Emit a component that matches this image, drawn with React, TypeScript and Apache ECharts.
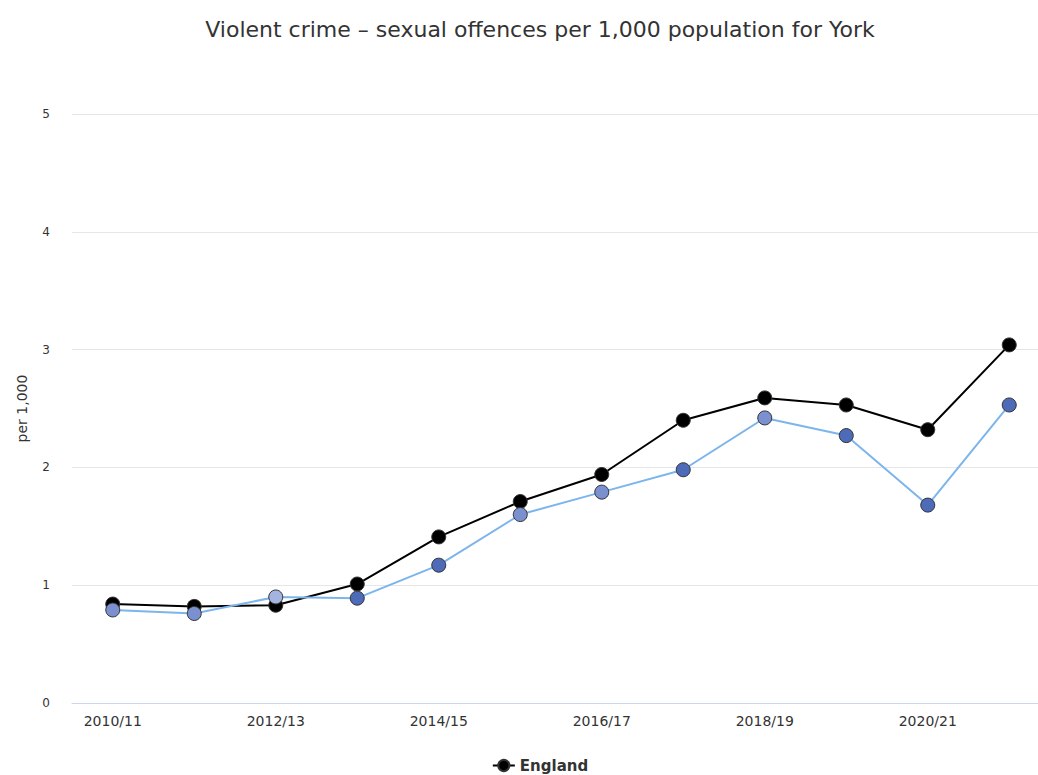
import React, { useEffect, useRef } from "react";
import * as echarts from "echarts";

const categories = [
  "2010/11", "2011/12", "2012/13", "2013/14", "2014/15", "2015/16",
  "2016/17", "2017/18", "2018/19", "2019/20", "2020/21", "2021/22",
];
const englandValues = [0.84, 0.82, 0.83, 1.01, 1.41, 1.71, 1.94, 2.40, 2.59, 2.53, 2.32, 3.04];
const yorkValues = [0.79, 0.76, 0.90, 0.89, 1.17, 1.60, 1.79, 1.98, 2.42, 2.27, 1.68, 2.53];
// significance band for each York point: "similar" | "lower" | "higher"
const yorkBands = [
  "similar", "similar", "higher", "lower", "lower", "similar",
  "similar", "lower", "similar", "lower", "lower", "lower",
];
const bandColors: Record<string, string> = {
  similar: "#7b91cf",
  higher: "#a4b4e0",
  lower: "#4d6bb8",
};

export default function App() {
  const ref = useRef<HTMLDivElement>(null);
  useEffect(() => {
    if (!ref.current) return;
    const chart = echarts.init(ref.current, undefined, { renderer: "svg" });
    const font = "DejaVu Sans";
    chart.setOption({
      animation: false,
      title: {
        text: "Violent crime \u2013 sexual offences per 1,000 population for York",
        left: "center",
        top: 13,
        textStyle: { fontFamily: font, fontSize: 22, fontWeight: "normal", color: "#333" },
      },
      legend: {
        data: ["England"],
        bottom: -3,
        left: "center",
        itemWidth: 22,
        itemHeight: 14,
        textStyle: { fontFamily: font, fontSize: 15, fontWeight: "bold", color: "#333" },
      },
      grid: { left: 72, right: 30, top: 114, bottom: 72 },
      xAxis: {
        type: "category",
        data: categories,
        boundaryGap: true,
        axisLine: { lineStyle: { color: "#ccd6eb" } },
        axisTick: { alignWithLabel: true, interval: 0, length: 5, lineStyle: { color: "#ccd6eb" } },
        axisLabel: { interval: 1, color: "#333", fontFamily: font, fontSize: 14, margin: 11 },
      },
      yAxis: {
        type: "value",
        min: 0,
        max: 5,
        interval: 1,
        name: "per 1,000",
        nameLocation: "middle",
        nameGap: 43,
        nameTextStyle: { fontFamily: font, fontSize: 14, color: "#333" },
        axisLine: { show: false },
        axisTick: { show: false },
        axisLabel: { color: "#333", fontFamily: font, fontSize: 12, margin: 22 },
        splitLine: { lineStyle: { color: "#e6e6e6" } },
      },
      series: [
        {
          name: "England",
          type: "line",
          data: englandValues,
          symbol: "circle",
          symbolSize: 14,
          lineStyle: { color: "#000", width: 2 },
          itemStyle: { color: "#000", borderColor: "#333", borderWidth: 1 },
        },
        {
          name: "York",
          type: "line",
          data: yorkValues.map((v, i) => ({
            value: v,
            itemStyle: { color: bandColors[yorkBands[i]] },
          })),
          symbol: "circle",
          symbolSize: 14,
          lineStyle: { color: "#7cb5ec", width: 2 },
          itemStyle: { color: "#7b91cf", borderColor: "#333", borderWidth: 1 },
        },
      ],
    });
    return () => chart.dispose();
  }, []);
  return (
    <div style={{ position: "fixed", left: 0, top: 0, width: 1038, height: 775, overflow: "hidden", background: "#fff" }}>
      <div ref={ref} style={{ width: 1080, height: 775 }} />
    </div>
  );
}
